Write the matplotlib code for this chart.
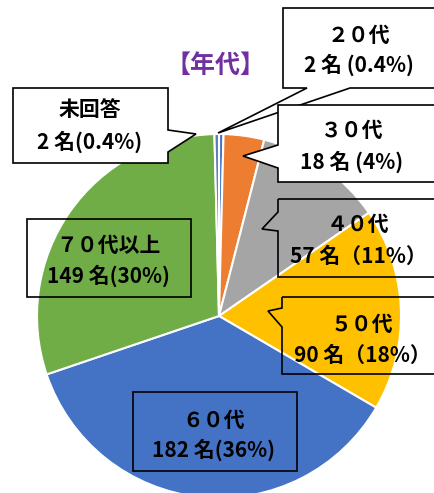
import matplotlib.pyplot as plt
from matplotlib.patches import Polygon

plt.rcParams['font.family'] = ['Noto Sans CJK JP', 'DejaVu Sans']

# data (clockwise from 12 o'clock)
labels = ['２０代', '３０代', '４０代', '５０代', '６０代', '７０代以上', '未回答']
counts = [2, 18, 57, 90, 182, 149, 2]
count_text = ['2 名 (0.4%)', '18 名 (4%)', '57 名（11%）', '90 名（18%）',
              '182 名(36%)', '149 名(30%)', '2 名(0.4%)']
colors = ['#4472C4', '#ED7D31', '#A5A5A5', '#FFC000', '#4472C4', '#70AD47', '#5B7DB5']

W, H = 435, 493


def fy(py):
    # pixel row -> data y
    return H - py


fig = plt.figure(figsize=(W / 100, H / 100), dpi=100)
ax = fig.add_axes([0, 0, 1, 1])

ax.pie(counts, colors=colors, startangle=90, counterclock=False,
       center=(219, fy(316)), radius=182,
       wedgeprops=dict(edgecolor='white', linewidth=1.5))
ax.set_xlim(0, W)
ax.set_ylim(0, H)
ax.set_aspect('equal')
ax.axis('off')


def callout(x0, y0, x1, y1, side, a, b, tip, fill='white'):
    # box in pixel coords with a pointer on one side, base from a to b
    if side == 'left':
        pts = [(x0, y0), (x1, y0), (x1, y1), (x0, y1), (x0, b), tip, (x0, a)]
    elif side == 'right':
        pts = [(x0, y0), (x1, y0), (x1, a), tip, (x1, b), (x1, y1), (x0, y1)]
    elif side == 'bottom':
        pts = [(x0, y0), (x1, y0), (x1, y1), (b, y1), tip, (a, y1), (x0, y1)]
    else:
        pts = [(x0, y0), (x1, y0), (x1, y1), (x0, y1)]
    pts = [(x, fy(y)) for x, y in pts]
    ax.add_patch(Polygon(pts, closed=True, facecolor=fill, edgecolor='black',
                         linewidth=1.2, zorder=3))


# layout of label boxes: (x0, y0, x1, y1, side, a, b, tip, fill, text x, line1 y, line2 y)
boxes = [
    (283, 8, 450, 88, 'bottom', 307, 350, (218, 133), 'white', 359, 35, 65),
    (278, 105, 450, 182, 'left', 145, 168, (243, 156), 'white', 352, 130, 162),
    (278, 199, 450, 277, 'left', 212, 231, (262, 229), 'none', 358, 224, 256),
    (282, 297, 450, 374, 'left', 308, 327, (268, 311), 'none', 362, 324, 355),
    (133, 392, 297, 471, 'none', 0, 0, None, 'none', 214, 420, 450),
    (27, 219, 191, 297, 'none', 0, 0, None, 'none', 108, 245, 276),
    (13, 88, 168, 163, 'right', 130, 152, (196, 134), 'white', 90, 110, 142),
]

for (x0, y0, x1, y1, side, a, b, tip, fill, tx, ty1, ty2), lab, ct in zip(boxes, labels, count_text):
    callout(x0, y0, x1, y1, side, a, b, tip, fill)
    ax.text(tx, fy(ty1), lab, ha='center', va='center', fontsize=15,
            fontweight='bold', color='black', zorder=4)
    ax.text(tx, fy(ty2), ct, ha='center', va='center', fontsize=15,
            fontweight='bold', color='black', zorder=4)

ax.text(216, fy(66), '【年代】', ha='center', va='center', fontsize=18,
        fontweight='bold', color='#7030A0')

fig.savefig('out.png', dpi=100)
